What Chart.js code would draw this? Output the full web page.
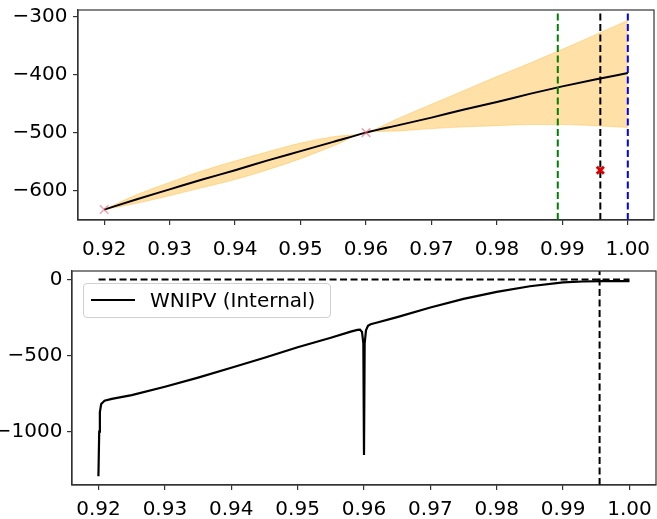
<!DOCTYPE html>
<html lang="en">
<head>
<meta charset="UTF-8">
<title>WNIPV</title>
<script src="https://cdn.jsdelivr.net/npm/chart.js"></script>
<style>
    body { margin: 0; background: #fff; width: 657px; height: 519px; overflow: hidden; position: relative; }
    .panel { position: absolute; left: 0; width: 657px; }
    #topPanel { top: 0; height: 262px; }
    #bottomPanel { top: 252px; height: 267px; }
    .legend {
        position: absolute; left: 83px; top: 283px; width: 246px; height: 33px;
        border: 1px solid #d0d0d0; border-radius: 4px; background: rgba(255,255,255,0.8);
        font-family: 'DejaVu Sans', sans-serif; font-size: 20px; color: #000;
    }
    .legend .swatch { position: absolute; left: 7px; top: 15px; width: 44px; height: 2px; background: #000; }
    .legend .label { position: absolute; left: 66px; top: 3px; line-height: 26px; white-space: nowrap; }
</style>
</head>
<body>
<div class="panel" id="topPanel"><canvas id="topChart"></canvas></div>
<div class="panel" id="bottomPanel"><canvas id="bottomChart"></canvas></div>
<div class="legend"><span class="swatch"></span><span class="label">WNIPV (Internal)</span></div>

<script>
const xTicks = [0.92, 0.93, 0.94, 0.95, 0.96, 0.97, 0.98, 0.99, 1.00];
const xRange = [0.916, 1.004];

// top panel: mean, band, samples
const topYTicks = [-600, -500, -400, -300];
const topYRange = [-651, -288];
const gpX = [0.92, 0.925, 0.93, 0.935, 0.94, 0.945, 0.95, 0.955, 0.96, 0.965, 0.97, 0.975, 0.98, 0.985, 0.99, 0.995, 1.00];
const gpMean = [-633, -615, -598, -581, -565, -548, -532, -516, -500, -487, -474, -460, -447, -433, -420, -408, -397];
const gpUpper = [-633, -607, -586, -566, -549, -533, -518, -507, -500, -475, -451, -427, -403, -380, -356, -331, -306];
const gpLower = [-633, -622, -609, -595, -581, -564, -545, -523, -500, -497, -493, -490, -488, -486, -486, -488, -491];
const sampleX = [0.92, 0.96];
const sampleY = [-633, -500];
const nextX = [0.9958];
const nextY = [-565];
const greenX = 0.9893;
const blackX = 0.9958;
const blueX = 1.00;

// bottom panel
const botYTicks = [-1000, -500, 0];
const botYRange = [-1350, 55];
const wnipvX = [0.91998, 0.9201, 0.9202, 0.9204, 0.9209, 0.922, 0.925, 0.93, 0.935, 0.94, 0.945, 0.95, 0.955,
    0.958, 0.959, 0.9594, 0.9597, 0.9599, 0.96, 0.9601, 0.9603, 0.9606, 0.961, 0.962, 0.965, 0.97, 0.975, 0.98, 0.985,
    0.99, 0.993, 0.996, 1.00];
const wnipvY = [-1293, -1000, -872, -818, -797, -785, -760, -705, -645, -580, -515, -446, -383,
    -343, -332, -330, -345, -420, -1153, -420, -335, -305, -295, -283, -248, -185, -128, -82, -45,
    -20, -14, -11, -11];
const zeroX = [0.92, 1.00];
const zeroY = [0, 0];
const bestX = 0.9955;

Chart.defaults.font.family = "'DejaVu Sans', sans-serif";
Chart.defaults.font.size = 20;
Chart.defaults.color = '#000';
Chart.defaults.animation = false;

const pts = (xs, ys) => xs.map((x, i) => ({ x: x, y: ys[i] }));
const vline = (x, r) => [{ x: x, y: r[0] }, { x: x, y: r[1] }];

const frame = {
    id: 'frame',
    afterDraw(chart) {
        const { ctx, chartArea: a } = chart;
        ctx.save();
        ctx.strokeStyle = '#333';
        ctx.lineWidth = 1.2;
        ctx.strokeRect(a.left, a.top, a.right - a.left, a.bottom - a.top);
        ctx.restore();
    }
};

// fixed axis sizes, no automatic label padding
function fixSize(s, key, size) {
    s[key] = size;
    s.paddingLeft = s.paddingRight = s.paddingTop = s.paddingBottom = 0;
}

function makeScales(yRange, yTicks, yWidth, yPad, xHeight, xPad) {
    const grid = { drawOnChartArea: false, drawTicks: true, tickLength: 5, color: '#333', lineWidth: 1.2 };
    const border = { display: true, color: '#333', width: 1.2 };
    return {
        x: {
            type: 'linear', min: xRange[0], max: xRange[1],
            afterBuildTicks: s => { s.ticks = xTicks.map(v => ({ value: v })); },
            afterFit: s => fixSize(s, 'height', xHeight),
            ticks: { padding: xPad, maxRotation: 0, autoSkip: false, callback: v => v.toFixed(2) },
            grid: grid, border: border
        },
        y: {
            type: 'linear', min: yRange[0], max: yRange[1],
            afterBuildTicks: s => { s.ticks = yTicks.map(v => ({ value: v })); },
            afterFit: s => fixSize(s, 'width', yWidth),
            ticks: { padding: yPad, callback: v => String(v).replace('-', '\u2212') },
            grid: grid, border: border
        }
    };
}

const baseOpts = {
    responsive: true,
    maintainAspectRatio: false,
    plugins: { legend: { display: false }, tooltip: { enabled: false } },
    elements: { point: { radius: 0 } }
};

const smooth = { showLine: true, cubicInterpolationMode: 'monotone' };

new Chart(document.getElementById('topChart'), {
    type: 'scatter',
    data: {
        datasets: [
            { data: pts(nextX, nextY), pointStyle: 'crossRot', pointRadius: 5, pointBorderWidth: 3, pointBorderColor: '#e00000' },
            { data: pts(sampleX, sampleY), pointStyle: 'crossRot', pointRadius: 6, pointBorderWidth: 1.5, pointBorderColor: 'rgba(235,100,120,0.6)' },
            { data: vline(greenX, topYRange), showLine: true, borderColor: '#008000', borderWidth: 2, borderDash: [7, 3.5] },
            { data: vline(blackX, topYRange), showLine: true, borderColor: '#000', borderWidth: 2, borderDash: [7, 3.5] },
            { data: vline(blueX, topYRange), showLine: true, borderColor: '#0000ff', borderWidth: 2, borderDash: [7, 3.5] },
            Object.assign({ data: pts(gpX, gpMean), borderColor: '#000', borderWidth: 2 }, smooth),
            Object.assign({ data: pts(gpX, gpUpper), borderColor: 'rgba(255,165,0,0.4)', borderWidth: 0.8,
              fill: '+1', backgroundColor: 'rgba(255,165,0,0.35)' }, smooth),
            Object.assign({ data: pts(gpX, gpLower), borderColor: 'rgba(255,165,0,0.4)', borderWidth: 0.8 }, smooth)
        ]
    },
    options: Object.assign({}, baseOpts, {
        layout: { autoPadding: false, padding: { top: 10, right: 3, left: 0, bottom: 0 } },
        scales: makeScales(topYRange, topYTicks, 78, 5.5, 42, 13)
    }),
    plugins: [frame]
});

new Chart(document.getElementById('bottomChart'), {
    type: 'scatter',
    data: {
        datasets: [
            { data: pts(wnipvX, wnipvY), showLine: true, borderColor: '#000', borderWidth: 2.2, tension: 0 },
            { data: pts(zeroX, zeroY), showLine: true, borderColor: '#000', borderWidth: 2, borderDash: [7, 3.5] },
            { data: vline(bestX, botYRange), showLine: true, borderColor: '#000', borderWidth: 2, borderDash: [7, 3.5] }
        ]
    },
    options: Object.assign({}, baseOpts, {
        layout: { autoPadding: false, padding: { top: 19, right: 1, left: 0, bottom: 0 } },
        scales: makeScales(botYRange, botYTicks, 72, 4.5, 34, 8)
    }),
    plugins: [frame]
});
</script>
</body>
</html>
